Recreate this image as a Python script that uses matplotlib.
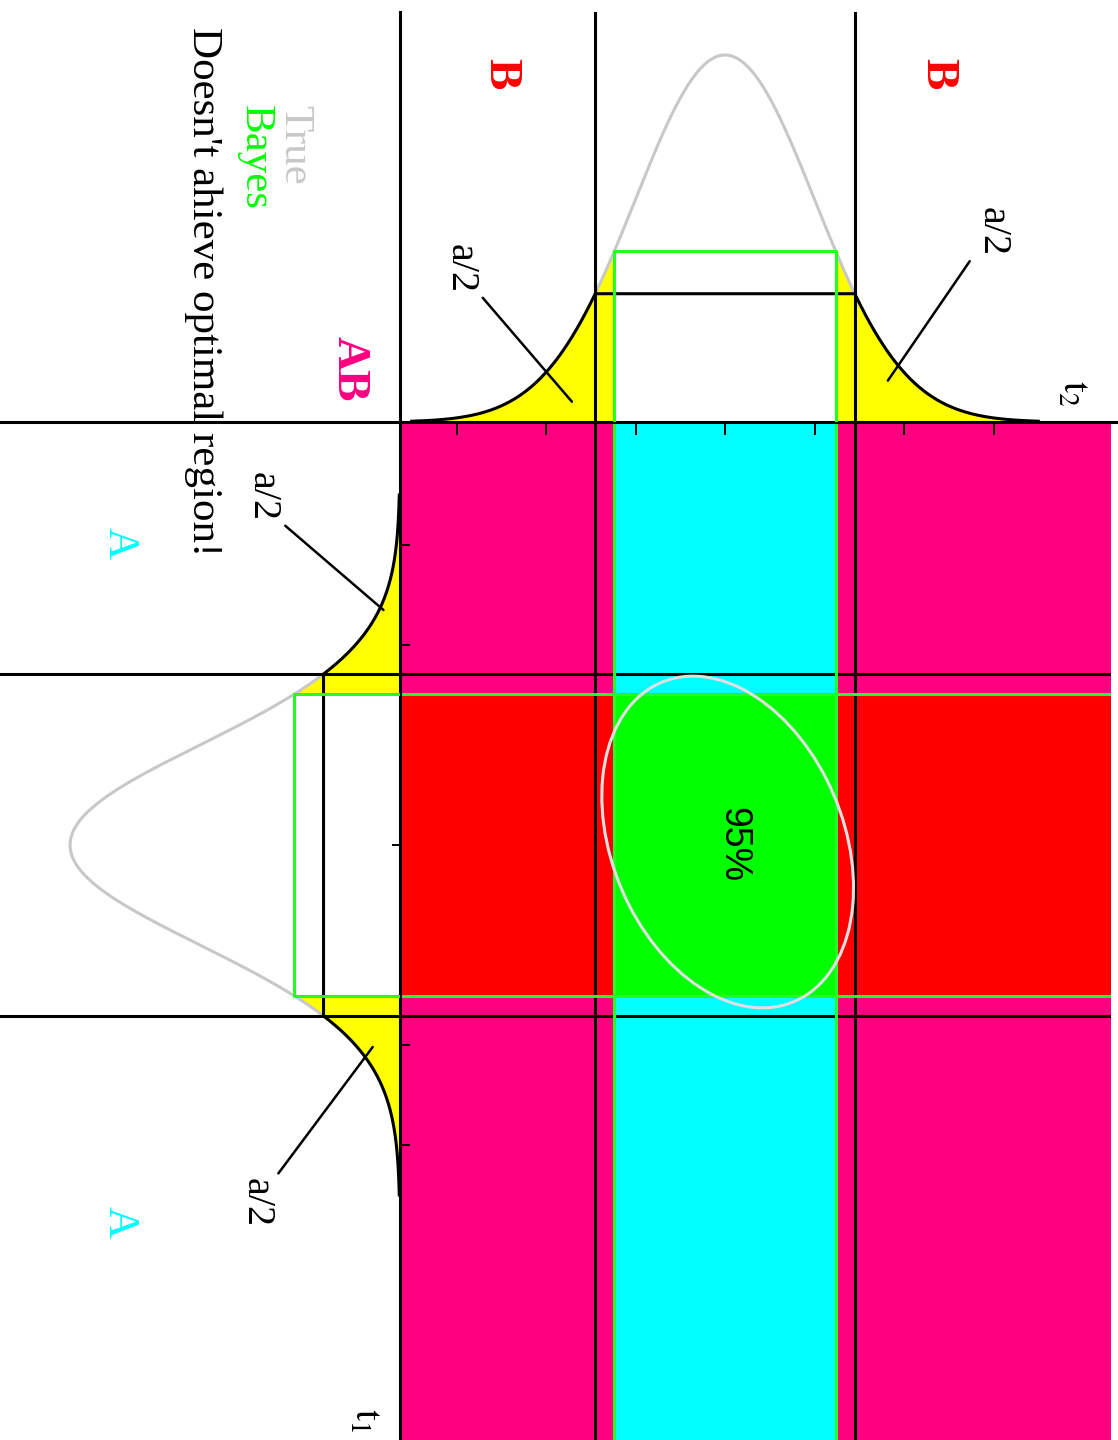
import numpy as np
import matplotlib.pyplot as plt
from matplotlib.patches import Ellipse

plt.rcParams['font.family'] = ['Liberation Serif', 'DejaVu Serif']
plt.rcParams['mathtext.fontset'] = 'stix'

# values (t units = tick spacing)
t2_ticks = [-3, -2, -1, 0, 1, 2, 3]
t1_ticks = [-3, -2, 2, 3]
t1_mid_tick = [0]
t1_crit = [-1.71, 1.71]      # classical cut-offs (black)
t1_bayes = [-1.51, 1.51]     # Bayes cut-offs (green)
t2_crit = [-1.45, 1.45]
t2_bayes = [-1.235, 1.235]
curve_span = 3.5             # black curve drawn out to here
tail_span = 3.1              # yellow tails end here
ellipse_center = (0.03, -0.03)
ellipse_size = (3.53, 2.54)
ellipse_angle = 60.5

# colours
PINK = '#ff0080'
RED = '#ff0000'
CYAN = '#00ffff'
GREEN = '#00ff00'
GREEN_LINE = '#22ff22'
YELLOW = '#ffff00'
GRAY = '#c8c8c8'

W, H = 1118, 1440
LW = 2.2

# pixel layout of the scales
T2_0, T2_PX = 725, 89.5
T1_0, T1_PX = 845, 100
TOP_PX = 920     # px per density unit, top margin
LEFT_PX = 827    # px per density unit, left margin


def box(x0, y0, x1, y1):
    return [x0 / W, 1 - y1 / H, (x1 - x0) / W, (y1 - y0) / H]


def fp(x, y):
    return x / W, 1 - y / H


def npdf(t):
    return np.exp(-t ** 2 / 2) / np.sqrt(2 * np.pi)


fig = plt.figure(figsize=(W / 100, H / 100), dpi=100)
ax_main = fig.add_axes(box(400, 422, 1111, 1440), zorder=0)
ax_top = fig.add_axes(box(400, 12, 1118, 422), zorder=2)
ax_left = fig.add_axes(box(0, 422, 400, 1440), zorder=2)

t1_lim = ((1440 - T1_0) / T1_PX, (422 - T1_0) / T1_PX)
ax_main.set_xlim((400 - T2_0) / T2_PX, (1111 - T2_0) / T2_PX)
ax_main.set_ylim(*t1_lim)
ax_top.set_xlim((400 - T2_0) / T2_PX, (1118 - T2_0) / T2_PX)
ax_top.set_ylim(0, 410 / TOP_PX)
ax_left.set_ylim(*t1_lim)
ax_left.set_xlim(400 / LEFT_PX, 0)

for ax in (ax_top, ax_left):
    ax.set_facecolor('none')
for s in ax_main.spines.values():
    s.set_visible(False)
ax_main.set_xticks([])
ax_main.set_yticks([])

# ---------------- main panel ----------------
ax_main.set_facecolor(PINK)
ax_main.axhspan(t1_bayes[0], t1_bayes[1], color=RED, lw=0, zorder=1)
ax_main.axvspan(t2_bayes[0], t2_bayes[1], color=CYAN, lw=0, zorder=1.1)
ax_main.fill_between(t2_bayes, t1_bayes[0], t1_bayes[1], color=GREEN, lw=0, zorder=1.2)
for v in t2_crit:
    ax_main.axvline(v, color='black', lw=LW, zorder=2)
for v in t1_crit:
    ax_main.axhline(v, color='black', lw=LW, zorder=2)
for v in t2_bayes:
    ax_main.axvline(v, color=GREEN_LINE, lw=LW, zorder=3)
for v in t1_bayes:
    ax_main.axhline(v, color=GREEN_LINE, lw=LW, zorder=3)
ax_main.add_patch(Ellipse(ellipse_center, ellipse_size[0], ellipse_size[1],
                          angle=ellipse_angle, fill=False, ec='#e0e0e0',
                          lw=2.2, zorder=4))
ax_main.text(0.09, 0.0, '95%', rotation=270, ha='center', va='center',
             fontsize=27, family=['Liberation Sans', 'DejaVu Sans'], zorder=5)

# ---------------- top margin: t2 ----------------
t = np.linspace(-curve_span, curve_span, 701)
p = npdf(t)
c2 = npdf(t2_crit[1])
b2 = npdf(t2_bayes[1])
for lo, hi in ((-tail_span, t2_bayes[0]), (t2_bayes[1], tail_span)):
    tt = np.linspace(lo, hi, 200)
    ax_top.fill_between(tt, 0, npdf(tt), color=YELLOW, lw=0, zorder=1)
mid = (t >= t2_crit[0]) & (t <= t2_crit[1])
ax_top.plot(t[mid], p[mid], color=GRAY, lw=LW, zorder=2)
ax_top.plot(t, np.minimum(p, c2), color='black', lw=LW, zorder=3)
for v in t2_crit:
    ax_top.axvline(v, color='black', lw=LW, zorder=3)
ax_top.plot([t2_bayes[0], t2_bayes[0], t2_bayes[1], t2_bayes[1]], [0, b2, b2, 0],
            color=GREEN_LINE, lw=LW, zorder=4)

ax_top.spines['top'].set_visible(False)
ax_top.spines['right'].set_visible(False)
ax_top.spines['left'].set_linewidth(LW)
ax_top.spines['bottom'].set_linewidth(LW)
ax_top.set_xticks(t2_ticks)
ax_top.set_yticks([])
ax_top.tick_params(axis='x', direction='out', length=9.5, width=1.4,
                   labelbottom=False)

# ---------------- left margin: t1 ----------------
c1 = npdf(t1_crit[1])
b1 = npdf(t1_bayes[1])
for lo, hi in ((-tail_span, t1_bayes[0]), (t1_bayes[1], tail_span)):
    tt = np.linspace(lo, hi, 200)
    ax_left.fill_betweenx(tt, 0, npdf(tt), color=YELLOW, lw=0, zorder=1)
mid = (t >= t1_crit[0]) & (t <= t1_crit[1])
ax_left.plot(p[mid], t[mid], color=GRAY, lw=LW, zorder=2)
ax_left.plot(np.minimum(p, c1), t, color='black', lw=LW, zorder=3)
for v in t1_crit:
    ax_left.axhline(v, color='black', lw=LW, zorder=3)
ax_left.plot([0, b1, b1, 0], [t1_bayes[0], t1_bayes[0], t1_bayes[1], t1_bayes[1]],
             color=GREEN_LINE, lw=LW, zorder=4)

ax_left.spines['left'].set_visible(False)
ax_left.spines['bottom'].set_visible(False)
ax_left.spines['top'].set_linewidth(LW)
ax_left.spines['right'].set_linewidth(LW)
ax_left.set_xticks([])
ax_left.yaxis.tick_right()
ax_left.set_yticks(t1_ticks)
ax_left.set_yticks(t1_mid_tick, minor=True)
ax_left.tick_params(axis='y', which='major', direction='out', length=7.5,
                    width=1.4, labelright=False)
ax_left.tick_params(axis='y', which='minor', direction='in', length=6,
                    width=1.4, labelright=False)

# ---------------- a/2 callouts ----------------
callouts = [
    (ax_top, (-1.71, 0.022), (-2.96, 0.167), (1, 0)),
    (ax_top, (1.82, 0.045), (2.98, 0.207), (0, 0)),
    (ax_left, (0.020, -2.35), (0.167, -3.48), (1, 0)),
    (ax_left, (0.033, 2.02), (0.174, 3.58), (1, 1)),
]
for ax, xy, xyt, rel in callouts:
    ax.annotate('a/2', xy=xy, xytext=xyt, rotation=270, ha='center', va='center',
                fontsize=29, zorder=6,
                arrowprops=dict(arrowstyle='-', color='black', lw=1.8,
                                relpos=rel, shrinkA=2, shrinkB=0))

# ---------------- labels ----------------
fig.text(*fp(294, 105), 'True', rotation=270, ha='center', va='top',
         fontsize=31, color=GRAY)
fig.text(*fp(255, 105), 'Bayes', rotation=270, ha='center', va='top',
         fontsize=31, color=GREEN)
fig.text(*fp(203, 27), "Doesn't ahieve optimal region!", rotation=270,
         ha='center', va='top', fontsize=31, color='black')
fig.text(*fp(349, 369), 'AB', rotation=270, ha='center', va='center',
         fontsize=34, fontweight='bold', color=PINK)
for x in (500, 937):
    fig.text(*fp(x, 74), 'B', rotation=270, ha='center', va='center',
             fontsize=34, fontweight='bold', color=RED)
for y in (543, 1222):
    fig.text(*fp(120, y), 'A', rotation=270, ha='center', va='center',
             fontsize=32, color=CYAN)
fig.text(*fp(1073, 393), r'$\mathrm{t}_2$', rotation=270, ha='center',
         va='center', fontsize=28)
fig.text(*fp(365, 1420), r'$\mathrm{t}_1$', rotation=270, ha='center',
         va='center', fontsize=28)

fig.savefig('out.png', dpi=100)
